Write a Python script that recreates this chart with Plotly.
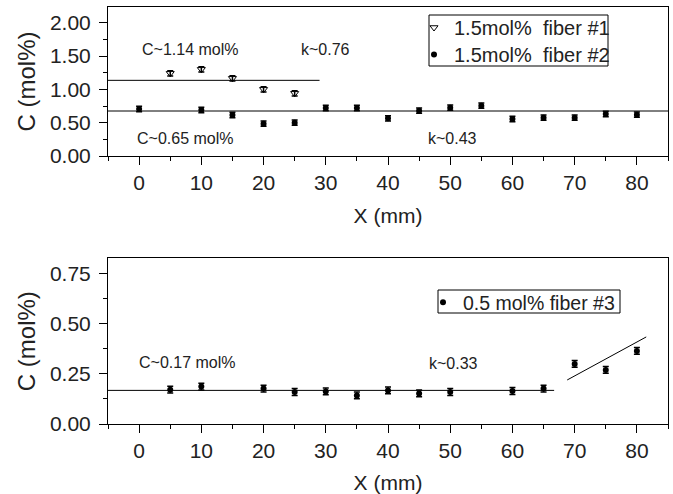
import plotly.graph_objects as go

# ---- data ----
x_f1 = [5, 10, 15, 20, 25]
c_f1 = [1.24, 1.30, 1.165, 1.00, 0.94]
x_f2 = [0, 10, 15, 20, 25, 30, 35, 40, 45, 50, 55, 60, 65, 70, 75, 80]
c_f2 = [0.705, 0.69, 0.615, 0.485, 0.50, 0.72, 0.72, 0.565, 0.68, 0.725, 0.755, 0.555, 0.575, 0.575, 0.63, 0.62]
x_f3 = [5, 10, 20, 25, 30, 35, 40, 45, 50, 60, 65, 70, 75, 80]
c_f3 = [0.1715, 0.187, 0.177, 0.16, 0.163, 0.143, 0.168, 0.153, 0.16, 0.165, 0.177, 0.30, 0.27, 0.365]
err_top = 0.04
err_bot = 0.017

# fit lines (x ranges and levels)
fit1_x = [-5, 29]
fit1_c = [1.135, 1.135]
fit2_x = [-5, 85]
fit2_c = [0.675, 0.675]
fit3_x = [-5, 66.7]
fit3_c = [0.168, 0.168]
fit4_x = [68.8, 81.5]
fit4_c = [0.22, 0.435]

W, H = 673, 494
FONT = "Arial, Liberation Sans, sans-serif"
TXT = "#222"
fig = go.Figure()

def line(xs, ys, xa, ya):
    fig.add_trace(go.Scatter(x=xs, y=ys, mode="lines", line=dict(color="black", width=1),
                             showlegend=False, xaxis=xa, yaxis=ya, hoverinfo="skip"))

line(fit1_x, fit1_c, "x", "y")
line(fit2_x, fit2_c, "x", "y")
fig.add_trace(go.Scatter(x=x_f1, y=c_f1, mode="markers", name="1.5mol%\u00a0\u00a0fiber #1",
                         marker=dict(symbol="triangle-down-open", size=7, color="black", line=dict(width=1)),
                         error_y=dict(type="constant", value=err_top, color="black", thickness=1.5, width=3),
                         xaxis="x", yaxis="y", legend="legend"))
fig.add_trace(go.Scatter(x=x_f2, y=c_f2, mode="markers", name="1.5mol%\u00a0\u00a0fiber #2",
                         marker=dict(symbol="circle", size=6, color="black"),
                         error_y=dict(type="constant", value=err_top, color="black", thickness=1.5, width=3),
                         xaxis="x", yaxis="y", legend="legend3"))

line(fit3_x, fit3_c, "x2", "y2")
line(fit4_x, fit4_c, "x2", "y2")
fig.add_trace(go.Scatter(x=x_f3, y=c_f3, mode="markers", name="0.5 mol% fiber #3",
                         marker=dict(symbol="circle", size=6, color="black"),
                         error_y=dict(type="constant", value=err_bot, color="black", thickness=1.5, width=3),
                         xaxis="x2", yaxis="y2", legend="legend2"))

xax = dict(range=[-5, 85], tickmode="array", tickvals=[0, 10, 20, 30, 40, 50, 60, 70, 80],
           ticks="outside", ticklen=8, tickwidth=1, tickcolor="black",
           minor=dict(tickvals=[-5, 5, 15, 25, 35, 45, 55, 65, 75, 85], ticks="outside", ticklen=4, tickcolor="black"),
           showline=True, linecolor="black", linewidth=1, mirror=True, showgrid=False, zeroline=False,
           tickfont=dict(family=FONT, size=21, color=TXT), automargin=False,
           title=dict(text="X (mm)", font=dict(family=FONT, size=21, color=TXT), standoff=15),
           domain=[108/W, 668/W])

yax = dict(ticks="outside", ticklen=8, tickcolor="black", tickmode="array",
           showline=True, linecolor="black", linewidth=1, mirror=True, showgrid=False, zeroline=False,
           tickfont=dict(family=FONT, size=21, color=TXT), ticklabelstandoff=4, automargin=False,
           title=dict(text="C (mol%)", font=dict(family=FONT, size=24, color=TXT), standoff=7))

leg = dict(xanchor="left", yanchor="top", borderwidth=0, bgcolor="rgba(0,0,0,0)",
           font=dict(family=FONT, size=20, color=TXT), itemwidth=30)

fig.update_layout(
    width=W, height=H, margin=dict(l=0, r=0, t=0, b=0),
    paper_bgcolor="white", plot_bgcolor="white",
    xaxis=dict(xax, anchor="y"),
    yaxis=dict(yax, range=[0, 2.235], tickvals=[0, 0.5, 1.0, 1.5, 2.0],
               ticktext=["0.00", "0.50", "1.00", "1.50", "2.00"],
               minor=dict(tickvals=[0.25, 0.75, 1.25, 1.75], ticks="outside", ticklen=4, tickcolor="black"),
               domain=[1-156/H, 1-7/H], anchor="x"),
    xaxis2=dict(xax, anchor="y2"),
    yaxis2=dict(yax, range=[0, 0.828], tickvals=[0, 0.25, 0.5, 0.75],
                ticktext=["0.00", "0.25", "0.50", "0.75"],
                minor=dict(tickvals=[0.125, 0.375, 0.625], ticks="outside", ticklen=4, tickcolor="black"),
                domain=[1-424/H, 1-258.3/H], anchor="x2"),
    legend=dict(leg, x=414/W, y=1-8/H),
    legend3=dict(leg, x=414/W, y=1-35/H),
    legend2=dict(leg, x=423/W, y=1-283/H, font=dict(family=FONT, size=19.5, color=TXT)),
)

# legend frames
for x0, y0, x1, y1 in [(429, 15, 608, 66), (438, 290, 620, 313)]:
    fig.add_shape(type="rect", xref="paper", yref="paper", x0=x0/W, x1=x1/W, y0=1-y1/H, y1=1-y0/H,
                  line=dict(color="black", width=1), fillcolor="rgba(0,0,0,0)", layer="below")

ann_font = dict(family=FONT, size=16, color=TXT)
for txt, x, y, xr, yr in [("C~1.14 mol%", 8.3, 1.60, "x", "y"),
                          ("k~0.76", 30, 1.60, "x", "y"),
                          ("C~0.65 mol%", 7.5, 0.255, "x", "y"),
                          ("k~0.43", 50.4, 0.255, "x", "y"),
                          ("C~0.17 mol%", 7.8, 0.3085, "x2", "y2"),
                          ("k~0.33", 50.5, 0.3035, "x2", "y2")]:
    fig.add_annotation(text=txt, x=x, y=y, xref=xr, yref=yr, showarrow=False, font=ann_font)

fig.write_html("out.html", config={"displayModeBar": False},
               post_script="document.body.style.margin='0px';")
